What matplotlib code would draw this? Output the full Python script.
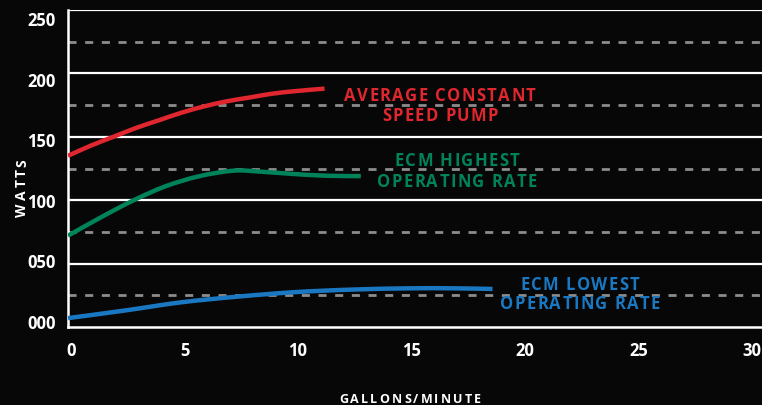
import matplotlib
matplotlib.use("Agg")
import matplotlib.pyplot as plt
import matplotlib.transforms as mtransforms
from matplotlib.path import Path
from matplotlib.patches import PathPatch
from matplotlib.font_manager import FontProperties

# Data
red_x = [0, 1, 2, 3, 4, 5, 6, 7, 8, 9, 10, 11.3]
red_y = [135, 143, 150, 157, 163, 169, 174, 178, 181, 184, 186, 188]

green_x = [0, 1.4, 2.85, 4.3, 5.8, 7.3, 8.5, 9.9, 11.4, 12.9]
green_y = [72, 86, 99.6, 111, 119, 123.3, 122.5, 120.7, 119.3, 119]

blue_x = [0, 2.5, 5, 7.5, 10, 12.5, 15, 17, 18.7]
blue_y = [7, 13, 19.5, 24, 27.5, 29.5, 30.5, 30.5, 30]

xticks = [0, 5, 10, 15, 20, 25, 30]
yticks = [0, 50, 100, 150, 200, 250]
ytick_labels = ["000", "050", "100", "150", "200", "250"]
dashed_levels = [25, 75, 125, 175, 225]

BG = "#070707"
RED = "#e0262e"
GREEN = "#00835a"
BLUE = "#1a78c2"
GRAY = "#8c8c8c"
FONT = "Open Sans"

fig = plt.figure(figsize=(7.62, 4.06), dpi=100, facecolor=BG)
ax = fig.add_axes([68/762, 1-328/406, 1-68/762, (328-11)/406])
ax.set_facecolor(BG)
ax.set_xlim(0, 30 * (762-68) / (749-68))
ax.set_ylim(0, 250)

for lv in yticks[1:]:
    ax.axhline(lv, color="white", lw=1.6, zorder=1)
for lv in dashed_levels:
    ax.axhline(lv, color=GRAY, lw=2.0, dashes=(2.9, 3.1), zorder=1)


def smooth_curve(xs, ys, color):
    # Catmull-Rom through the read points, drawn as cubic Bezier segments in data coords
    pts = list(zip(xs, ys))
    n = len(pts)
    verts = [pts[0]]
    codes = [Path.MOVETO]
    for i in range(n - 1):
        p0 = pts[i - 1] if i > 0 else pts[i]
        p1 = pts[i]
        p2 = pts[i + 1]
        p3 = pts[i + 2] if i + 2 < n else pts[i + 1]
        c1 = (p1[0] + (p2[0] - p0[0]) / 6, p1[1] + (p2[1] - p0[1]) / 6)
        c2 = (p2[0] - (p3[0] - p1[0]) / 6, p2[1] - (p3[1] - p1[1]) / 6)
        verts += [c1, c2, p2]
        codes += [Path.CURVE4] * 3
    patch = PathPatch(Path(verts, codes), facecolor="none", edgecolor=color,
                      lw=3.2, capstyle="butt", zorder=3)
    ax.add_patch(patch)


smooth_curve(red_x, red_y, RED)
smooth_curve(green_x, green_y, GREEN)
smooth_curve(blue_x, blue_y, BLUE)

for s in ["top", "right"]:
    ax.spines[s].set_visible(False)
for s in ["left", "bottom"]:
    ax.spines[s].set_color("white")
    ax.spines[s].set_linewidth(1.8)

ax.set_xticks(xticks)
ax.set_xticklabels([str(t) for t in xticks])
ax.set_yticks(yticks)
ax.set_yticklabels(ytick_labels)
ax.tick_params(axis="both", length=0, colors="white", labelsize=12)
ax.tick_params(axis="x", pad=10)
ax.tick_params(axis="y", pad=9)
for lab in ax.get_xticklabels():
    lab.set_fontfamily(FONT)
    lab.set_fontweight("bold")
    lab.set_transform(lab.get_transform() +
                      mtransforms.ScaledTranslation(3/100, 0, fig.dpi_scale_trans))
for v, lab in zip(yticks, ax.get_yticklabels()):
    lab.set_fontfamily(FONT)
    lab.set_fontweight("bold")
    dy = -(v - 110) * 0.058
    lab.set_transform(lab.get_transform() +
                      mtransforms.ScaledTranslation(0, dy/100, fig.dpi_scale_trans))

renderer = fig.canvas.get_renderer()


def tracked(xp, yp, txt, col, size, track, rotation=0):
    prop = FontProperties(family=FONT, weight="bold", size=size)
    widths = []
    for ch in txt:
        w, h, d = renderer.get_text_width_height_descent(ch, prop, ismath=False)
        widths.append(w)
    total = sum(widths) + track * (len(txt) - 1)
    pos = -total / 2
    for ch, w in zip(txt, widths):
        if rotation == 0:
            fig.text((xp + pos) / 762, 1 - yp / 406, ch, color=col, fontproperties=prop,
                     ha="left", va="center")
        else:
            fig.text(xp / 762, 1 - (yp - pos) / 406, ch, color=col, fontproperties=prop,
                     ha="center", va="top", rotation=90, rotation_mode="anchor")
        pos += w + track


tracked(410, 400, "GALLONS/MINUTE", "white", 9, 2.2)
tracked(15, 183, "WATTS", "white", 10, 2.2, rotation=90)

tracked(440, 96, "AVERAGE CONSTANT", RED, 12, 1.4)
tracked(440, 116, "SPEED PUMP", RED, 12, 1.4)
tracked(457, 161, "ECM HIGHEST", GREEN, 12, 1.4)
tracked(457, 182, "OPERATING RATE", GREEN, 12, 1.4)
tracked(580, 285, "ECM LOWEST", BLUE, 12, 1.4)
tracked(580, 304, "OPERATING RATE", BLUE, 12, 1.4)

fig.savefig("out.png", dpi=100, facecolor=BG)
